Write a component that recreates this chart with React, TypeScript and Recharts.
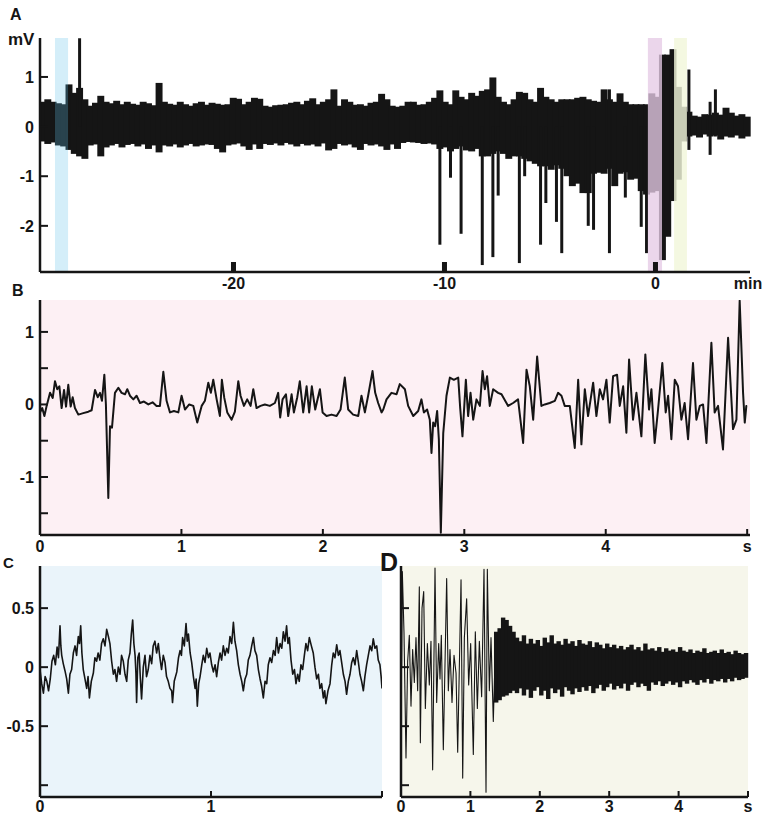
import {
  ComposedChart,
  LineChart,
  Line,
  Bar,
  XAxis,
  YAxis,
  ReferenceArea,
  CartesianGrid,
} from "recharts";

const FONT = "'Liberation Sans', Arial, Helvetica, sans-serif";
const INK = "#151515";

// ---------- A: whole recording, minutes relative to seizure onset ----------
const A_START = -29.17;
const A_END = 4.48;
// envelope of the trace, one [low, high] pair per column (mV)
const A_HIGH = [
  0.5, 0.55, 0.5, 0.47, 0.45, 0.85, 0.68, 0.78, 0.55, 0.42,
  0.48, 0.62, 0.5, 0.47, 0.52, 0.45, 0.5, 0.46, 0.44, 0.5,
  0.47, 0.43, 0.88, 0.5, 0.46, 0.44, 0.5, 0.45, 0.42, 0.47,
  0.5, 0.44, 0.48, 0.46, 0.44, 0.45, 0.58, 0.56, 0.45, 0.5,
  0.58, 0.56, 0.42, 0.4, 0.43, 0.44, 0.45, 0.48, 0.5, 0.45,
  0.52, 0.57, 0.45, 0.5, 0.55, 0.75, 0.42, 0.55, 0.5, 0.44,
  0.45, 0.42, 0.48, 0.5, 0.66, 0.55, 0.42, 0.4, 0.42, 0.5,
  0.5, 0.44, 0.45, 0.5, 0.58, 0.73, 0.5, 0.45, 0.73, 0.6,
  0.55, 0.68, 0.62, 0.72, 0.75, 0.99, 0.6, 0.5, 0.45, 0.55,
  0.7, 0.68, 0.55, 0.5, 0.78, 0.6, 0.55, 0.5, 0.55, 0.55,
  0.55, 0.58, 0.6, 0.55, 0.52, 0.5, 0.75, 0.55, 0.5, 0.67,
  0.5, 0.45, 0.45, 0.45, 0.45, 0.67, 0.6, 1.45, 1.45, 1.56,
  0.8, 0.4, 0.3, 0.22, 0.2, 0.25, 0.24, 0.28, 0.24, 0.38,
  0.28, 0.22, 0.25, 0.2,
];
const A_LOW = [
  -0.3, -0.35, -0.32, -0.38, -0.4, -0.47, -0.55, -0.6, -0.65, -0.38,
  -0.36, -0.6, -0.42, -0.38, -0.35, -0.42, -0.37, -0.35, -0.4, -0.36,
  -0.45, -0.38, -0.52, -0.38, -0.4, -0.36, -0.42, -0.38, -0.35, -0.4,
  -0.38, -0.36, -0.37, -0.45, -0.52, -0.38, -0.36, -0.34, -0.4, -0.47,
  -0.36, -0.45, -0.35, -0.37, -0.34, -0.38, -0.33, -0.36, -0.4, -0.35,
  -0.38, -0.36, -0.4, -0.34, -0.48, -0.45, -0.35, -0.38, -0.36, -0.42,
  -0.47, -0.35, -0.38, -0.36, -0.4, -0.47, -0.36, -0.45, -0.33, -0.31,
  -0.32, -0.33, -0.35, -0.34, -0.36, -0.45, -0.42, -0.5, -0.45, -0.4,
  -0.48, -0.5, -0.45, -0.6, -0.6, -0.55, -0.5, -0.55, -0.65, -0.6,
  -0.6, -0.65, -0.7, -0.75, -0.8, -0.8, -0.87, -0.78, -0.85, -1.0,
  -1.2, -1.15, -1.34, -1.34, -0.95, -0.93, -0.95, -0.85, -1.2, -0.95,
  -0.92, -1.07, -1.05, -1.3, -1.37, -1.33, -1.3, -2.69, -2.22, -1.5,
  -1.07, -0.3, -0.2, -0.18, -0.22, -0.16, -0.2, -0.18, -0.26, -0.2,
  -0.22, -0.18, -0.24, -0.2,
];
// isolated spikes: [min, low, high]
const A_SPIKES: [number, number, number][] = [
  [-27.18, 0, 1.78],
  [-10.21, -2.38, 0],
  [-9.6, -1.03, 0],
  [-9.27, -2.16, 0],
  [-8.22, -2.79, 0],
  [-7.8, -2.63, 0],
  [-7.42, -1.39, 0],
  [-6.37, -2.75, 0],
  [-6.18, -1.0, 0],
  [-5.33, -2.38, 0],
  [-5.19, -1.54, 0],
  [-4.62, -1.92, 0],
  [-4.43, -2.55, 0],
  [-3.29, -2.0, 0],
  [-2.96, -2.08, 0],
  [-2.3, -2.55, 0.75],
  [-1.35, -1.43, 0],
  [-0.73, -2.02, 0],
  [-0.36, -2.55, 0],
  [1.59, -0.47, 1.15],
  [2.68, -0.57, 0.5],
  [2.87, -0.2, 0.75],
];
// windows shown below: C (interictal), B (onset), D (postictal)
const WIN_C: [number, number] = [-28.46, -27.84];
const WIN_B: [number, number] = [-0.36, 0.31];
const WIN_D: [number, number] = [0.88, 1.49];
const A_XTICKS = [-20, -10, 0];
const A_YTICKS = [-2, -1, 0, 1];

// ---------- B: 5 s at onset (s, mV) ----------
const B_TRACE: [number, number][] = [
  [0, -0.11], [0.016, -0.05], [0.031, -0.16], [0.047, -0.02], [0.071, 0.16], [0.09, 0.09],
  [0.106, 0.32], [0.122, 0.21], [0.137, 0.25], [0.153, -0.05], [0.17, 0.2], [0.184, -0.03],
  [0.2, 0.27], [0.217, -0.03], [0.231, 0.1], [0.247, -0.05], [0.271, -0.14], [0.306, -0.12],
  [0.342, -0.1], [0.365, -0.08], [0.389, 0.2], [0.408, 0.1], [0.424, 0.16], [0.438, 0.05],
  [0.455, 0.41], [0.466, 0.0], [0.483, -1.29], [0.495, -0.3], [0.509, -0.32], [0.53, 0.16],
  [0.554, 0.23], [0.577, 0.16], [0.601, 0.14], [0.617, 0.21], [0.636, 0.12], [0.66, 0.07],
  [0.683, 0.12], [0.707, 0.02], [0.735, 0.04], [0.766, 0.0], [0.796, 0.03], [0.824, -0.02],
  [0.848, -0.02], [0.872, 0.45], [0.895, 0.05], [0.919, -0.11], [0.947, -0.09], [0.978, -0.11],
  [1.001, 0.12], [1.025, -0.07], [1.055, 0.0], [1.084, -0.02], [1.112, -0.25], [1.143, -0.02],
  [1.166, 0.05], [1.19, 0.3], [1.208, 0.16], [1.225, 0.34], [1.249, 0.07], [1.272, -0.16],
  [1.286, 0.34], [1.303, 0.09], [1.324, -0.11], [1.355, -0.21], [1.378, -0.1], [1.402, 0.32],
  [1.418, 0.12], [1.442, -0.02], [1.465, 0.07], [1.489, -0.02], [1.508, 0.21], [1.531, -0.05],
  [1.559, -0.02], [1.59, 0.0], [1.625, -0.02], [1.661, 0.02], [1.684, 0.16], [1.698, -0.18],
  [1.715, 0.07], [1.739, 0.14], [1.755, -0.16], [1.779, 0.14], [1.795, -0.11], [1.819, 0.1],
  [1.837, 0.32], [1.861, -0.11], [1.885, 0.25], [1.903, -0.11], [1.922, 0.25], [1.946, -0.07],
  [1.979, 0.21], [1.998, -0.11], [2.026, -0.16], [2.061, -0.14], [2.097, -0.16], [2.125, -0.07],
  [2.155, 0.37], [2.179, -0.07], [2.214, -0.14], [2.25, -0.16], [2.273, 0.12], [2.297, -0.11],
  [2.32, 0.12], [2.351, 0.46], [2.37, 0.16], [2.391, 0.02], [2.415, -0.11], [2.427, -0.07],
  [2.45, 0.07], [2.485, 0.16], [2.521, 0.14], [2.544, 0.28], [2.58, 0.21], [2.603, -0.02],
  [2.639, -0.16], [2.674, -0.09], [2.697, 0.07], [2.714, -0.11], [2.737, -0.07], [2.756, -0.21],
  [2.768, -0.67], [2.78, -0.25], [2.794, -0.3], [2.808, -0.09], [2.82, -0.48], [2.834, -1.77],
  [2.851, -0.4], [2.874, 0.12], [2.898, 0.37], [2.926, 0.34], [2.957, 0.37], [2.971, -0.05],
  [2.987, -0.44], [3.011, 0.34], [3.027, -0.16], [3.044, 0.16], [3.063, -0.21], [3.086, 0.07],
  [3.11, -0.02], [3.129, 0.46], [3.145, 0.21], [3.161, 0.39], [3.18, -0.02], [3.204, 0.21],
  [3.239, 0.16], [3.263, 0.14], [3.31, -0.02], [3.345, 0.02], [3.38, 0.07], [3.416, -0.53],
  [3.44, 0.48], [3.463, 0.25], [3.487, -0.21], [3.515, 0.66], [3.545, -0.02], [3.569, 0.0],
  [3.604, 0.02], [3.64, 0.05], [3.663, 0.16], [3.687, 0.12], [3.71, -0.02], [3.746, -0.02],
  [3.781, -0.6], [3.805, 0.34], [3.828, -0.55], [3.852, 0.21], [3.875, -0.16], [3.911, 0.3],
  [3.934, -0.16], [3.958, 0.21], [3.981, 0.07], [4.005, 0.34], [4.028, -0.25], [4.052, 0.39],
  [4.08, 0.41], [4.099, -0.02], [4.123, 0.25], [4.146, -0.39], [4.165, 0.62], [4.193, -0.21],
  [4.217, 0.16], [4.252, -0.44], [4.28, 0.69], [4.306, -0.07], [4.323, 0.21], [4.346, -0.53],
  [4.37, -0.07], [4.4, 0.57], [4.424, -0.11], [4.441, 0.12], [4.464, -0.48], [4.488, 0.34],
  [4.511, 0.25], [4.535, -0.21], [4.558, 0.02], [4.582, -0.48], [4.617, 0.57], [4.641, -0.21],
  [4.665, -0.02], [4.688, 0.0], [4.712, -0.53], [4.747, 0.85], [4.77, -0.11], [4.794, -0.02],
  [4.829, -0.62], [4.865, 0.92], [4.9, -0.34], [4.924, -0.21], [4.947, 1.43], [4.971, 0.16],
  [4.983, -0.25], [4.994, -0.02], [5.0, -0.02],
];

// ---------- C: 2 s interictal (s, mV) ----------
const C_TRACE: [number, number][] = [
  [0, -0.02], [0.01, -0.14], [0.02, -0.22], [0.03, -0.08], [0.04, -0.12], [0.05, -0.2],
  [0.06, -0.1], [0.07, 0.05], [0.08, 0.1], [0.09, 0.02], [0.1, 0.17], [0.108, 0.08],
  [0.117, 0.35], [0.122, 0.18], [0.127, 0.1], [0.136, 0.03], [0.146, -0.03], [0.156, -0.1],
  [0.166, -0.22], [0.175, -0.06], [0.185, -0.02], [0.195, 0.12], [0.205, 0.18], [0.214, 0.1],
  [0.224, 0.26], [0.231, 0.2], [0.238, 0.35], [0.245, 0.12], [0.253, -0.02], [0.263, -0.1],
  [0.273, -0.18], [0.281, -0.08], [0.289, -0.26], [0.3, -0.12], [0.312, -0.05], [0.321, 0.08],
  [0.331, 0.05], [0.34, 0.12], [0.35, 0.06], [0.36, 0.2], [0.37, 0.24], [0.38, 0.18],
  [0.39, 0.32], [0.4, 0.26], [0.409, 0.2], [0.419, 0.05], [0.429, -0.06], [0.438, -0.02],
  [0.448, -0.12], [0.458, 0.0], [0.468, -0.06], [0.477, 0.1], [0.487, 0.05], [0.497, -0.06],
  [0.507, -0.12], [0.516, 0.06], [0.526, 0.12], [0.534, 0.28], [0.542, 0.4], [0.549, 0.2],
  [0.556, 0.1], [0.561, -0.05], [0.565, -0.3], [0.572, 0.08], [0.58, 0.12], [0.587, -0.1],
  [0.594, -0.27], [0.604, 0.0], [0.614, 0.1], [0.623, -0.08], [0.633, -0.02], [0.643, 0.1],
  [0.653, 0.03], [0.662, 0.18], [0.672, 0.22], [0.682, 0.12], [0.692, 0.2], [0.701, 0.08],
  [0.711, -0.02], [0.721, 0.1], [0.731, 0.04], [0.74, -0.08], [0.75, -0.12], [0.76, -0.18],
  [0.77, -0.2], [0.775, -0.3], [0.785, -0.12], [0.8, -0.04], [0.81, 0.08], [0.819, 0.14],
  [0.827, 0.1], [0.834, 0.25], [0.844, 0.18], [0.854, 0.37], [0.861, 0.22], [0.868, 0.28],
  [0.878, 0.12], [0.887, 0.04], [0.897, -0.08], [0.907, -0.18], [0.913, -0.1], [0.92, -0.33],
  [0.928, -0.14], [0.936, -0.08], [0.946, 0.02], [0.955, 0.1], [0.965, 0.04], [0.975, 0.16],
  [0.985, 0.08], [0.994, 0.12], [1.004, 0.02], [1.014, -0.04], [1.024, 0.02], [1.033, -0.08],
  [1.043, 0.04], [1.053, 0.12], [1.062, 0.06], [1.072, 0.18], [1.082, 0.1], [1.092, 0.16],
  [1.101, 0.12], [1.111, 0.26], [1.121, 0.2], [1.131, 0.38], [1.14, 0.22], [1.15, 0.14],
  [1.16, 0.02], [1.17, -0.06], [1.18, -0.12], [1.189, -0.2], [1.199, -0.1], [1.209, -0.06],
  [1.218, 0.06], [1.228, 0.1], [1.238, 0.18], [1.248, 0.25], [1.257, 0.14], [1.267, 0.1],
  [1.277, -0.02], [1.287, -0.1], [1.296, -0.16], [1.306, -0.26], [1.316, -0.12], [1.326, -0.14],
  [1.335, 0.02], [1.345, 0.08], [1.355, 0.04], [1.365, 0.14], [1.375, 0.1], [1.384, 0.25],
  [1.394, 0.12], [1.404, 0.2], [1.414, 0.16], [1.423, 0.3], [1.433, 0.22], [1.442, 0.35],
  [1.45, 0.2], [1.458, 0.25], [1.468, 0.06], [1.478, -0.06], [1.488, -0.02], [1.497, -0.14],
  [1.507, -0.06], [1.516, -0.12], [1.526, 0.02], [1.536, -0.02], [1.546, 0.1], [1.555, 0.2],
  [1.565, 0.14], [1.575, 0.25], [1.587, 0.18], [1.598, 0.12], [1.608, 0.0], [1.618, -0.1],
  [1.628, -0.06], [1.637, -0.18], [1.647, -0.14], [1.657, -0.26], [1.665, -0.2], [1.672, -0.31],
  [1.684, -0.2], [1.696, -0.14], [1.706, 0.02], [1.715, 0.12], [1.725, 0.08], [1.735, 0.19],
  [1.745, 0.1], [1.754, 0.14], [1.764, 0.04], [1.774, -0.06], [1.784, -0.12], [1.793, -0.23],
  [1.803, -0.12], [1.813, -0.06], [1.823, 0.04], [1.832, 0.08], [1.842, 0.02], [1.852, 0.14],
  [1.862, 0.04], [1.871, -0.06], [1.881, -0.12], [1.891, -0.2], [1.9, -0.08], [1.91, 0.02],
  [1.92, 0.1], [1.93, 0.18], [1.94, 0.14], [1.949, 0.24], [1.959, 0.16], [1.969, 0.18],
  [1.978, 0.06], [1.988, 0.02], [1.995, -0.08], [2.0, -0.18],
];

// ---------- D: 5 s postictal ----------
// large discharges in the first 1.4 s (s, mV)
const D_BURST: [number, number][] = [
  [0.01, 0.0], [0.019, 0.81], [0.043, 0.3], [0.072, -0.77], [0.096, 0.05], [0.12, 0.27],
  [0.144, -0.33], [0.168, 0.15], [0.192, -0.13], [0.216, 0.25], [0.24, -0.2], [0.264, 0.68],
  [0.279, -0.64], [0.303, 0.5], [0.327, 0.64], [0.351, -0.35], [0.38, 0.2], [0.408, -0.15],
  [0.432, 0.22], [0.456, -0.87], [0.49, 0.84], [0.514, -0.3], [0.543, 0.2], [0.562, -0.1],
  [0.581, 0.27], [0.61, -0.7], [0.658, 0.75], [0.682, -0.2], [0.706, 0.15], [0.735, -0.3],
  [0.764, 0.1], [0.793, -0.05], [0.817, -0.72], [0.865, 0.74], [0.889, -0.94], [0.913, 0.25],
  [0.946, 0.58], [0.975, -0.15], [1.004, 0.2], [1.042, -0.74], [1.071, 0.3], [1.1, -0.35],
  [1.129, 0.22], [1.162, -0.25], [1.196, 0.83], [1.225, -1.06], [1.244, 0.83], [1.273, -0.2],
  [1.297, 0.25], [1.33, -0.46], [1.359, 0.15], [1.388, -0.2],
];
// dense low-amplitude activity afterwards: envelope per 0.05 s column
const D_COLUMNS = 100;
const D_FIRST = 27;
const D_HIGH = [
  0.3, 0.33, 0.42, 0.4, 0.35, 0.3, 0.25, 0.22, 0.27, 0.2,
  0.24, 0.2, 0.23, 0.18, 0.25, 0.21, 0.27, 0.2, 0.22, 0.19,
  0.24, 0.2, 0.22, 0.18, 0.23, 0.2, 0.19, 0.22, 0.17, 0.21,
  0.19, 0.16, 0.2, 0.17, 0.19, 0.16, 0.18, 0.15, 0.17, 0.19,
  0.15, 0.17, 0.14, 0.2, 0.15, 0.16, 0.14, 0.17, 0.13, 0.16,
  0.14, 0.15, 0.13, 0.17, 0.14, 0.13, 0.15, 0.12, 0.14, 0.13,
  0.16, 0.12, 0.13, 0.14, 0.12, 0.15, 0.12, 0.13, 0.11, 0.14,
  0.12, 0.11, 0.12,
];
const D_LOW = [
  -0.3, -0.28, -0.25, -0.24, -0.22, -0.2, -0.22, -0.18, -0.24, -0.19,
  -0.26, -0.2, -0.17, -0.24, -0.2, -0.27, -0.18, -0.22, -0.19, -0.25,
  -0.17, -0.2, -0.23, -0.18, -0.21, -0.17, -0.2, -0.16, -0.22, -0.18,
  -0.15, -0.2, -0.17, -0.14, -0.19, -0.16, -0.18, -0.14, -0.2, -0.15,
  -0.13, -0.17, -0.14, -0.16, -0.2, -0.13, -0.15, -0.12, -0.16, -0.14,
  -0.12, -0.15, -0.13, -0.17, -0.12, -0.14, -0.11, -0.13, -0.15, -0.11,
  -0.13, -0.1, -0.14, -0.11, -0.12, -0.1, -0.13, -0.1, -0.12, -0.09,
  -0.11, -0.1, -0.09,
];

const SEC_TICKS = [0, 1, 2, 3, 4, 5];
const CD_YTICKS = [-1, -0.5, 0, 0.5];

// ---------- tables ----------
const aStep = (A_END - A_START) / A_HIGH.length;
const aRows = A_HIGH.map((hi, i) => {
  const from = A_START + i * aStep;
  const hits = A_SPIKES.filter(([t]) => t >= from && t < from + aStep);
  return {
    i,
    t: from + aStep / 2,
    env: [A_LOW[i], hi],
    spike: hits.length
      ? [Math.min(...hits.map((h) => h[1])), Math.max(...hits.map((h) => h[2]))]
      : [0, 0],
  };
});
const bRows = B_TRACE.map(([t, v]) => ({ t, v }));
const cRows = C_TRACE.map(([t, v]) => ({ t, v }));
const dBurst = D_BURST.map(([t, v]) => ({ t, v }));
const dRows = Array.from({ length: D_COLUMNS }, (_, k) => {
  const j = k - D_FIRST;
  return {
    k,
    t: ((k + 0.5) * 5) / D_COLUMNS,
    env: j >= 0 && j < D_HIGH.length ? [D_LOW[j], D_HIGH[j]] : [0, 0],
  };
});

// ---------- drawing helpers ----------
const txt = { fontFamily: FONT, fontSize: 16, fontWeight: 700, fill: INK };
const axisLine = { stroke: INK, strokeWidth: 2.5 };

// envelope columns are widened to close the category gap so the trace reads as one solid band
const EnvelopeShape = (p: any) => {
  const h = Math.abs(p.height || 0);
  if (!h || !p.width) return <g />;
  const y = Math.min(p.y, p.y + p.height);
  const w = p.width * 1.27 + 0.6;
  return <rect x={p.x + p.width / 2 - w / 2} y={y} width={w} height={h} fill={INK} />;
};

const yTick = (labels: number[]) => (p: any) => {
  const v = p.payload.value;
  return (
    <g>
      <line x1={p.x} x2={p.x + 8} y1={p.y} y2={p.y} stroke={INK} strokeWidth={2} />
      {labels.includes(v) && (
        <text x={p.x - 6} y={p.y + 6} textAnchor="end" {...txt}>
          {v}
        </text>
      )}
    </g>
  );
};

const secTick = (lastLabel: number, dy: number) => (p: any) => {
  const v = p.payload.value;
  const label = v === 5 ? "s" : v <= lastLabel ? String(v) : null;
  return (
    <g>
      {v > 0 && <line x1={p.x} x2={p.x} y1={p.y} y2={p.y - 6} stroke={INK} strokeWidth={2} />}
      {label && (
        <text x={p.x} y={p.y + dy} textAnchor="middle" {...txt}>
          {label}
        </text>
      )}
    </g>
  );
};

const minTick = (p: any) => {
  const v = p.payload.value;
  if (v === A_END)
    return (
      <text x={p.x - 2} y={p.y + 17} textAnchor="middle" {...txt}>
        min
      </text>
    );
  return (
    <g>
      <rect x={p.x - 2.5} y={p.y - 10} width={5} height={10} fill={INK} />
      <text x={p.x} y={p.y + 17} textAnchor="middle" {...txt}>
        {v}
      </text>
    </g>
  );
};

const pos = (left: number, top: number) => ({ position: "absolute" as const, left, top });

export default function App() {
  return (
    <div
      style={{
        position: "absolute",
        left: 0,
        top: 0,
        width: 765,
        height: 816,
        background: "#fff",
        overflow: "hidden",
      }}
    >
      {/* A */}
      <div style={pos(0, 0)}>
        <ComposedChart
          width={765}
          height={300}
          data={aRows}
          barCategoryGap={0}
          margin={{ top: 38, right: 15, bottom: 0, left: 0 }}
        >
          <XAxis
            dataKey="t"
            type="number"
            domain={[A_START, A_END]}
            allowDataOverflow
            ticks={[...A_XTICKS, A_END]}
            interval={0}
            height={28}
            tickLine={false}
            tickSize={0}
            tickMargin={0}
            axisLine={axisLine}
            tick={minTick}
          />
          <XAxis xAxisId="cat" dataKey="i" type="category" hide />
          <XAxis xAxisId="spk" dataKey="i" type="category" hide />
          <YAxis
            type="number"
            domain={[-2.93, 1.785]}
            allowDataOverflow
            ticks={A_YTICKS}
            interval={0}
            width={40}
            tickLine={false}
            tickSize={0}
            tickMargin={0}
            axisLine={axisLine}
            tick={yTick(A_YTICKS)}
          />
          <Bar
            xAxisId="cat"
            dataKey="env"
            fill={INK}
            shape={EnvelopeShape}
            isAnimationActive={false}
          />
          <Bar xAxisId="spk" dataKey="spike" fill={INK} barSize={3} isAnimationActive={false} />
          <ReferenceArea x1={WIN_C[0]} x2={WIN_C[1]} fill="#5fc0ea" fillOpacity={0.27} stroke="none" zIndex={450} />
          <ReferenceArea x1={WIN_B[0]} x2={WIN_B[1]} fill="#e6cbe6" fillOpacity={0.78} stroke="none" zIndex={450} />
          <ReferenceArea x1={WIN_D[0]} x2={WIN_D[1]} fill="#f2f6da" fillOpacity={0.82} stroke="none" zIndex={450} />
        </ComposedChart>
      </div>

      {/* B */}
      <div style={pos(0, 280)}>
        <LineChart width={765} height={280} data={bRows} margin={{ top: 20, right: 15, bottom: 0, left: 0 }}>
          <CartesianGrid fill="#fdf0f4" stroke="none" horizontal={false} vertical={false} />
          <XAxis
            dataKey="t"
            type="number"
            domain={[0, 5.02]}
            allowDataOverflow
            ticks={SEC_TICKS}
            interval={0}
            height={25}
            tickLine={false}
            tickSize={0}
            tickMargin={0}
            axisLine={axisLine}
            tick={secTick(4, 17)}
          />
          <YAxis
            type="number"
            domain={[-1.8, 1.44]}
            allowDataOverflow
            ticks={[-1.5, -1, -0.5, 0, 0.5, 1]}
            interval={0}
            width={40}
            tickLine={false}
            tickSize={0}
            tickMargin={0}
            axisLine={axisLine}
            tick={yTick([-1, 0, 1])}
          />
          <Line
            dataKey="v"
            stroke={INK}
            strokeWidth={2}
            strokeLinejoin="round"
            dot={false}
            isAnimationActive={false}
          />
        </LineChart>
      </div>

      {/* C */}
      <div style={pos(0, 550)}>
        <LineChart width={390} height={266} data={cRows} margin={{ top: 16, right: 8, bottom: 0, left: 0 }}>
          <CartesianGrid fill="#eaf4fa" stroke="none" horizontal={false} vertical={false} />
          <XAxis
            dataKey="t"
            type="number"
            domain={[0, 2]}
            allowDataOverflow
            ticks={[0, 1, 2]}
            interval={0}
            height={19}
            tickLine={false}
            tickSize={0}
            tickMargin={0}
            axisLine={axisLine}
            tick={secTick(1, 15)}
          />
          <YAxis
            type="number"
            domain={[-1.1, 0.857]}
            allowDataOverflow
            ticks={CD_YTICKS}
            interval={0}
            width={40}
            tickLine={false}
            tickSize={0}
            tickMargin={0}
            axisLine={axisLine}
            tick={yTick([-0.5, 0, 0.5])}
          />
          <Line
            dataKey="v"
            stroke={INK}
            strokeWidth={1.6}
            strokeLinejoin="round"
            dot={false}
            isAnimationActive={false}
          />
        </LineChart>
      </div>

      {/* D */}
      <div style={pos(380, 550)}>
        <ComposedChart
          width={385}
          height={266}
          data={dRows}
          barCategoryGap={0}
          margin={{ top: 16, right: 17, bottom: 0, left: 0 }}
        >
          <CartesianGrid fill="#f6f6eb" stroke="none" horizontal={false} vertical={false} />
          <XAxis
            dataKey="t"
            type="number"
            domain={[0, 5]}
            allowDataOverflow
            ticks={SEC_TICKS}
            interval={0}
            height={19}
            tickLine={false}
            tickSize={0}
            tickMargin={0}
            axisLine={axisLine}
            tick={secTick(4, 15)}
          />
          <XAxis xAxisId="cat" dataKey="k" type="category" hide />
          <YAxis
            type="number"
            domain={[-1.1, 0.857]}
            allowDataOverflow
            ticks={CD_YTICKS}
            interval={0}
            width={21}
            tickLine={false}
            tickSize={0}
            tickMargin={0}
            axisLine={axisLine}
            tick={yTick([])}
          />
          <Bar
            xAxisId="cat"
            dataKey="env"
            fill={INK}
            shape={EnvelopeShape}
            isAnimationActive={false}
          />
          <Line
            data={dBurst}
            dataKey="v"
            stroke={INK}
            strokeWidth={1.1}
            strokeLinejoin="round"
            dot={false}
            isAnimationActive={false}
          />
        </ComposedChart>
      </div>

      {/* panel letters */}
      <svg
        width={765}
        height={816}
        style={{ position: "absolute", left: 0, top: 0, pointerEvents: "none" }}
      >
        <text x={10} y={20} {...txt}>A</text>
        <text x={8} y={45} {...txt} fontSize={17}>mV</text>
        <text x={12} y={296} {...txt}>B</text>
        <text x={3} y={568} {...txt} fontSize={15}>C</text>
        <text x={380} y={571} {...txt} fontSize={25}>D</text>
      </svg>
    </div>
  );
}
